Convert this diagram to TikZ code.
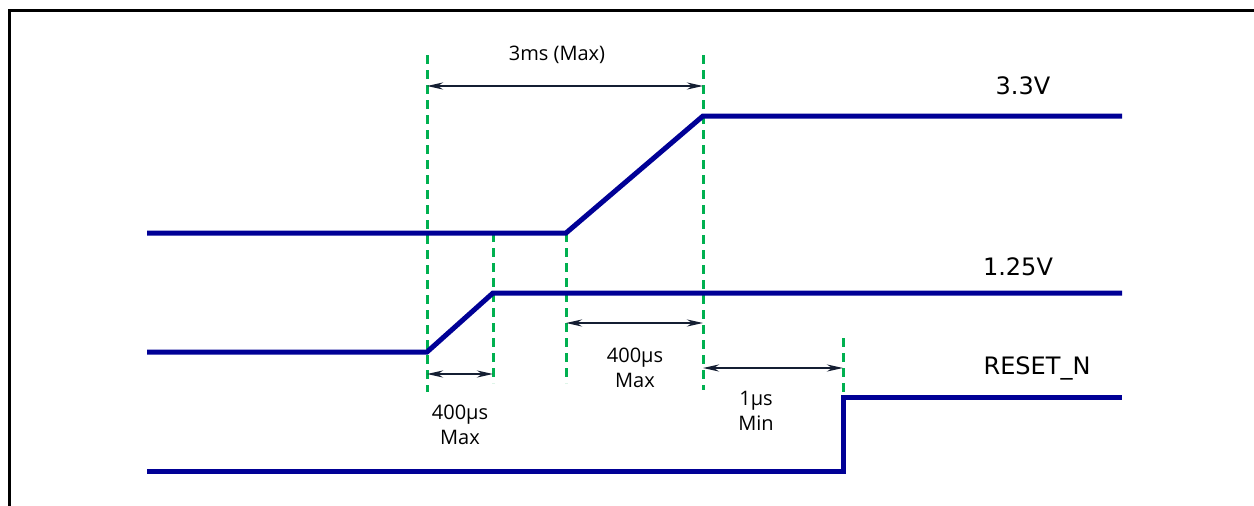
\documentclass[tikz,border=0pt]{standalone}
\usepackage{fontspec}
\setmainfont{Open Sans}
\newfontfamily\labfont{DejaVu Sans}
\usetikzlibrary{arrows.meta}
\definecolor{sig}{RGB}{0,0,150}
\definecolor{grn}{RGB}{0,176,80}
\definecolor{arr}{RGB}{20,30,50}
\tikzset{
  signal/.style={draw=sig,line width=5pt,line join=miter},
  guide/.style={draw=grn,line width=3pt,dash pattern=on 9pt off 6pt},
  dim/.style={draw=arr,line width=2.2pt,{Stealth[length=16pt,width=7pt]}-{Stealth[length=16pt,width=7pt]}},
  sig label/.style={font=\labfont\fontsize{24}{26}\selectfont,inner sep=0pt},
  dim label/.style={font=\fontsize{20}{25}\selectfont,inner sep=0pt,align=center},
}
\begin{document}
\begin{tikzpicture}[x=1pt,y=-1pt]
\useasboundingbox (0,0) rectangle (1254,506);
% frame
\draw[line width=3pt] (9,506) -- (9,10) -- (1254,10);
% guide coordinates
\coordinate (gA0) at (427,55);  \coordinate (gA1) at (427,392);
\coordinate (gB0) at (493,233); \coordinate (gB1) at (493,383);
\coordinate (gC0) at (566,233); \coordinate (gC1) at (566,383);
\coordinate (gD0) at (703,55);  \coordinate (gD1) at (703,390);
\coordinate (gE0) at (843,338); \coordinate (gE1) at (843,397);
\draw[guide] (gA0) -- (gA1);
\draw[guide] (gB0) -- (gB1);
\draw[guide] (gC0) -- (gC1);
\draw[guide] (gD0) -- (gD1);
\draw[guide] (gE0) -- (gE1);
% signals
\coordinate (s1a) at (147,233); \coordinate (s1b) at (566,233);
\coordinate (s1c) at (703,116); \coordinate (s1d) at (1122,116);
\draw[signal] (s1a) -- (s1b) -- (s1c) -- (s1d);
\coordinate (s2a) at (147,352); \coordinate (s2b) at (427,352);
\coordinate (s2c) at (493,293); \coordinate (s2d) at (1122,293);
\draw[signal] (s2a) -- (s2b) -- (s2c) -- (s2d);
\coordinate (s3a) at (147,471); \coordinate (s3b) at (843,471);
\coordinate (s3c) at (843,397); \coordinate (s3d) at (1122,397);
\draw[signal] (s3a) -- (s3b) -- (s3c) -- (s3d);
% dimension arrows
\coordinate (d1a) at (427,86);  \coordinate (d1b) at (703,86);
\draw[dim] (d1a) -- (d1b);
\coordinate (d2a) at (427,374); \coordinate (d2b) at (493,374);
\draw[dim] (d2a) -- (d2b);
\coordinate (d3a) at (566,323); \coordinate (d3b) at (703,323);
\draw[dim] (d3a) -- (d3b);
\coordinate (d4a) at (703,368); \coordinate (d4b) at (843,368);
\draw[dim] (d4a) -- (d4b);
% labels
\node[dim label] (t3ms) at (557,55) {3ms (Max)};
\node[dim label] (t400a) at (460,425) {400µs\\Max};
\node[dim label] (t400b) at (635,368) {400µs\\Max};
\node[dim label] (t1us) at (756,411) {1µs\\Min};
\node[sig label] (v33) at (1023,86) {3.3V};
\node[sig label] (v125) at (1018,267) {1.25V};
\node[sig label] (vrst) at (1037,368) {RESET\_N};
\end{tikzpicture}
\end{document}
